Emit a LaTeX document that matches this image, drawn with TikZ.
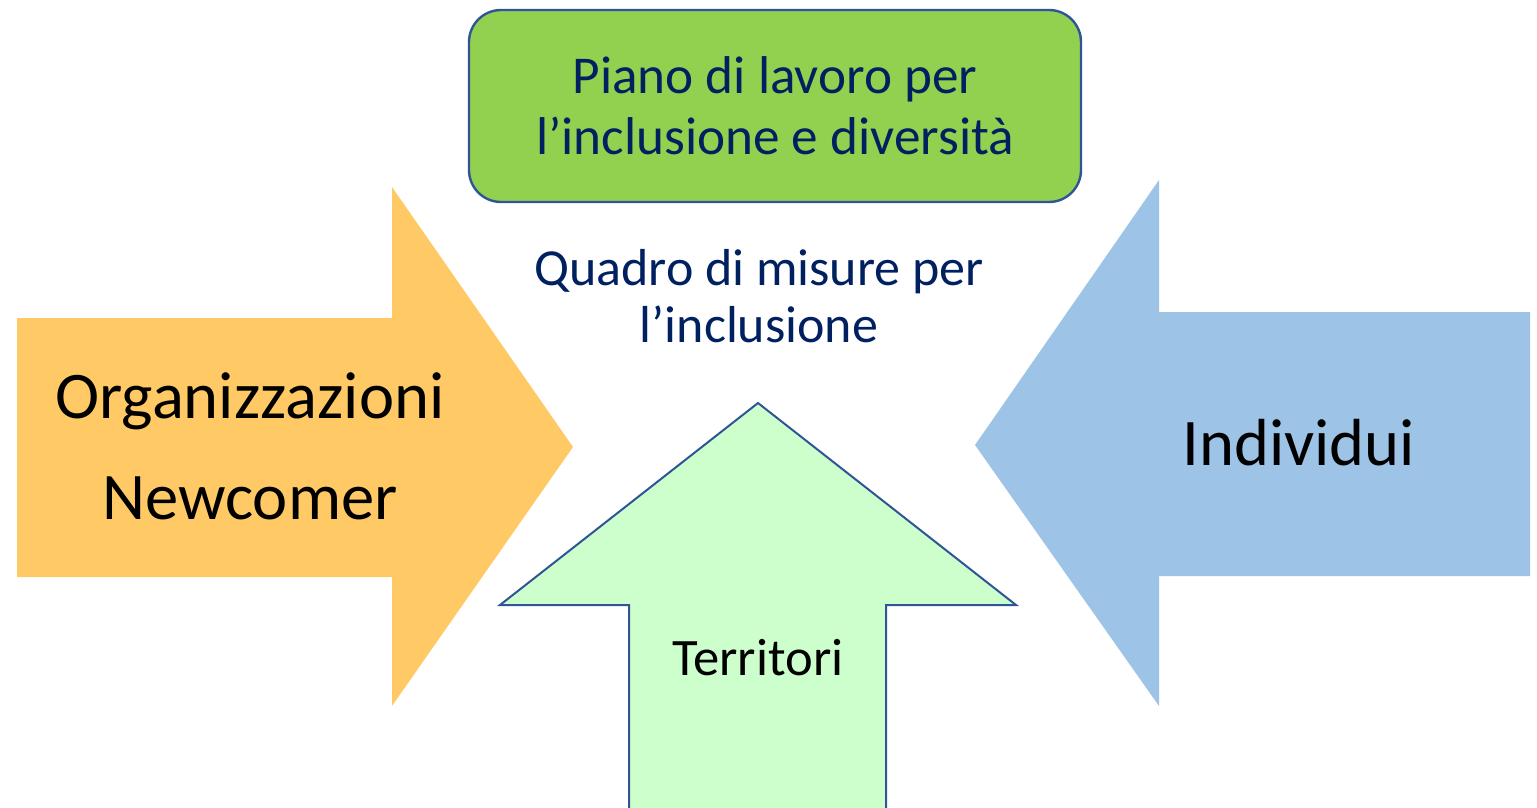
\documentclass[tikz,border=0pt]{standalone}
\usepackage{fontspec}
\setmainfont{Carlito}
\usetikzlibrary{positioning}
\definecolor{orangefill}{HTML}{FFCA66}
\definecolor{bluefill}{HTML}{9DC3E6}
\definecolor{greenfill}{HTML}{CCFFCC}
\definecolor{planfill}{HTML}{92D050}
\definecolor{outline}{HTML}{2F5597}
\definecolor{navy}{HTML}{002060}
\tikzset{
  bigarrow/.style={ % flat arrow without border
    draw=none
  },
  uparrow/.style={ % up arrow with border
    draw=outline, line width=1pt, fill=greenfill, line join=miter
  },
  planbox/.style={ % rounded box on top
    draw=outline, line width=1.2pt, fill=planfill,
    rounded corners=16pt, minimum width=306pt, minimum height=96pt,
    align=center, text=navy,
    font=\fontsize{26.6}{30.5}\selectfont
  },
  navytext/.style={
    align=center, text=navy, inner sep=0pt,
    font=\fontsize{26}{28.5}\selectfont
  },
  bigtext/.style={
    align=center, text=black, inner sep=0pt,
    font=\fontsize{33.3}{50.5}\selectfont
  },
  smalltext/.style={
    align=center, text=black, inner sep=0pt,
    font=\fontsize{26.3}{30}\selectfont
  }
}
\begin{document}
\begin{tikzpicture}[x=0.5pt, y=-0.5pt]
  \useasboundingbox (0,0) rectangle (1537,808);

  % arrows
  \fill[bigarrow, orangefill] (17,318) -- (392,318) -- (392,187) -- (573,447)
    -- (392,706) -- (392,577) -- (17,577) -- cycle;
  \fill[bigarrow, bluefill] (1530,312) -- (1159,312) -- (1159,180) -- (975,445)
    -- (1159,706) -- (1159,576) -- (1530,576) -- cycle;
  \draw[uparrow] (629,808) -- (629,605) -- (500,605) -- (758,403)
    -- (1016,605) -- (886,605) -- (886,808);

  % box and labels
  \node[planbox] (piano) at (775,106) {Piano di lavoro per\\l’inclusione e diversità};
  \node[navytext] (quadro) at (759,296) {Quadro di misure per\\l’inclusione};
  \node[bigtext] (organizzazioni) at (250,446) {Organizzazioni\\Newcomer};
  \node[bigtext] (individui) at (1299,443) {Individui};
  \node[smalltext] (territori) at (758,658) {Territori};
\end{tikzpicture}
\end{document}
